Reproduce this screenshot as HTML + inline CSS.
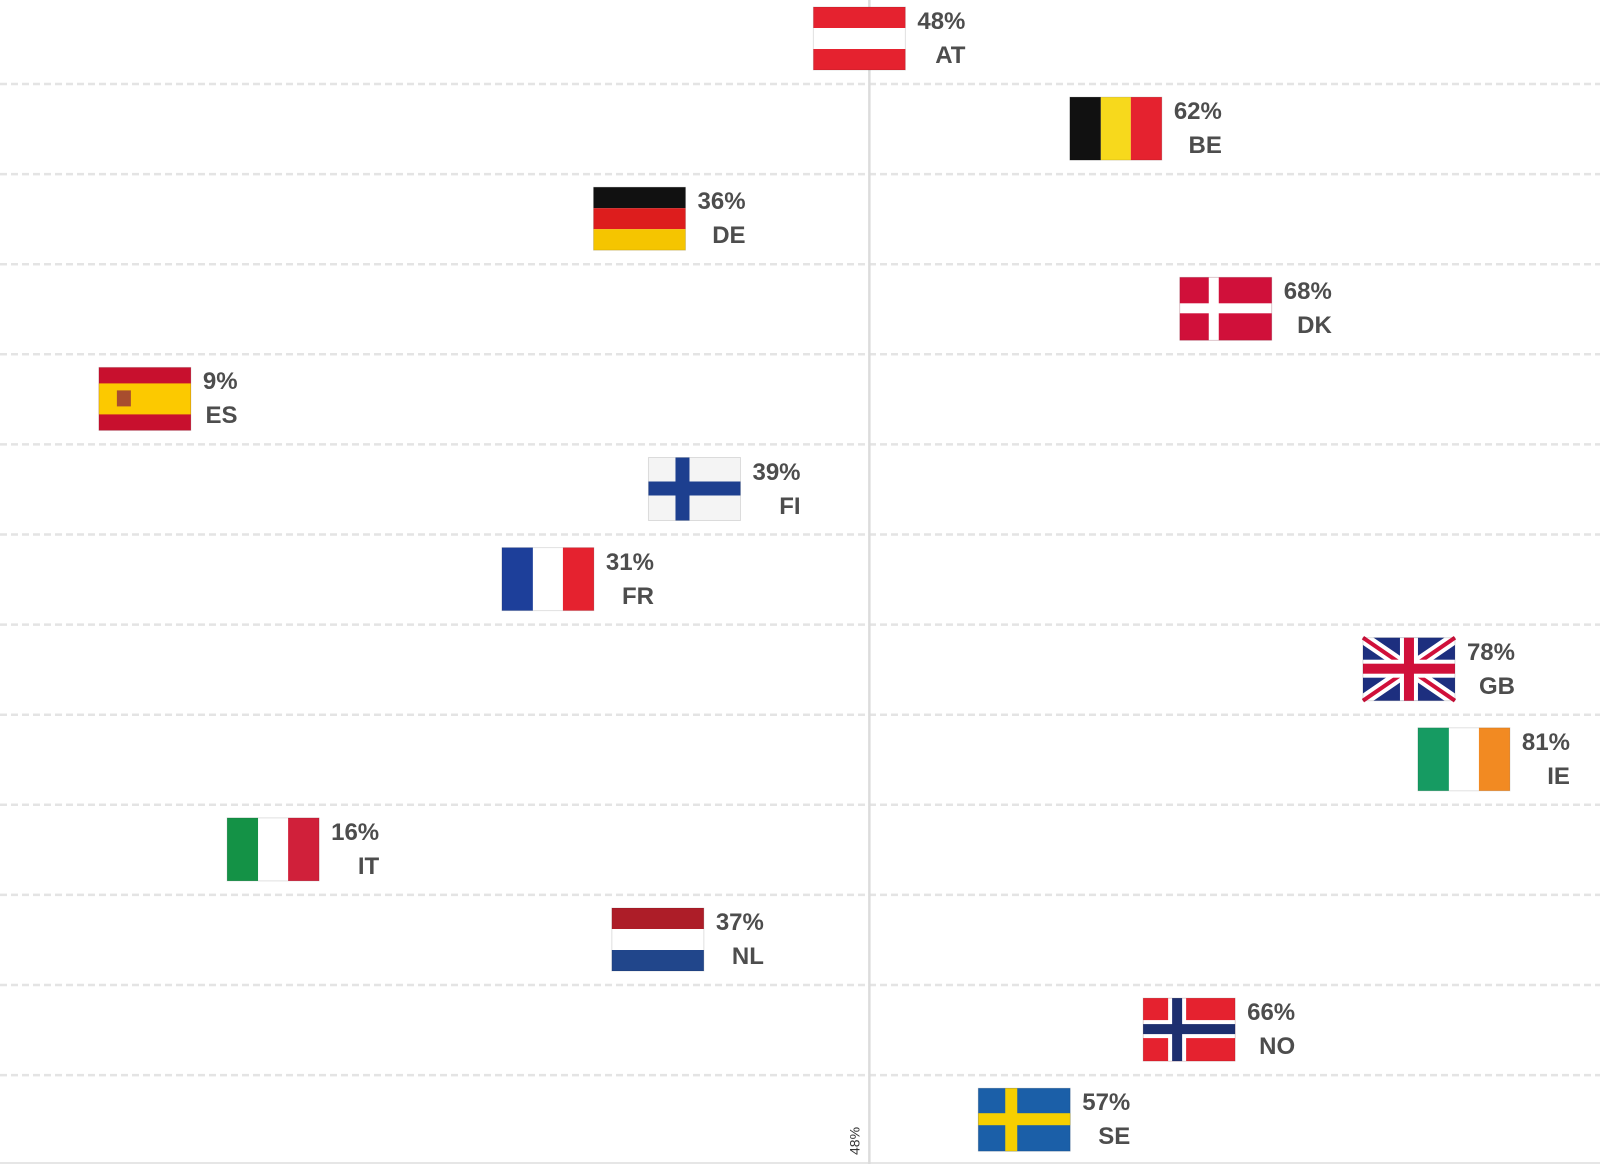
<!DOCTYPE html>
<html><head><meta charset="utf-8"><style>
body{margin:0;background:#fff;font-family:"Liberation Sans",sans-serif;}
#wrap{position:relative;width:1600px;height:1164px;overflow:hidden;}
.lbl{position:absolute;font-weight:bold;font-size:24px;color:#4d4d4d;text-align:right;line-height:34px;display:inline-block;}
</style></head><body>
<div id="wrap">
<svg id="svg" width="1600" height="1164" style="position:absolute;left:0;top:0"></svg>
</div>
<script>
const countries=["AT","BE","DE","DK","ES","FI","FR","GB","IE","IT","NL","NO","SE"];
const values=[48,62,36,68,9,39,31,78,81,16,37,66,57];
const refValue=48;
const NS="http://www.w3.org/2000/svg";
const svg=document.getElementById('svg');
const wrap=document.getElementById('wrap');
function x(v){return -66+18.32*v;}
function rowY(i){return 39+90.1*i;}
function el(t,a,p){const e=document.createElementNS(NS,t);for(const k in a)e.setAttribute(k,a[k]);(p||svg).appendChild(e);return e;}
for(let i=0;i<countries.length-1;i++){
 const l=el('line',{x1:0,x2:1600,y1:rowY(i)+45,y2:rowY(i)+45,stroke:'#e4e4e4','stroke-width':2.5,'stroke-dasharray':'7,4'});
 
 
}
const bl=el('line',{x1:0,x2:1600,y1:1163,y2:1163,stroke:'#e6e6e6','stroke-width':2});


const rx=x(refValue)+56;
const rl=el('line',{x1:rx,x2:rx,y1:0,y2:1164,stroke:'#dcdcdc','stroke-width':2.5});


const rt=el('text',{x:0,y:0,transform:`translate(${rx-10},1155) rotate(-90)`,'font-size':14,fill:'#333','font-family':'Liberation Sans'});
rt.textContent=refValue+'%';


function flag(c,g){
 const W=92,H=63;
 const R=(x0,y0,w,h,f)=>el('rect',{x:x0,y:y0,width:w,height:h,fill:f},g);
 const h3=(a,b,d)=>{R(0,0,W,21,a);R(0,21,W,21,b);R(0,42,W,21,d);};
 const v3=(a,b,d)=>{R(0,0,31,H,a);R(31,0,30,H,b);R(61,0,31,H,d);};
 switch(c){
  case 'AT':h3('#e5222f','#fff','#e5222f');break;
  case 'BE':v3('#111','#f7d91c','#e5222f');break;
  case 'DE':h3('#111','#dd1d1d','#f5c500');break;
  case 'DK':R(0,0,W,H,'#d0103a');R(29,0,10,H,'#fff');R(0,26,W,10,'#fff');break;
  case 'ES':R(0,0,W,H,'#c8102e');R(0,16,W,31,'#fcc900');R(18,23,14,16,'#a84d2e');break;
  case 'FI':R(0,0,W,H,'#f4f4f4');R(27,0,14,H,'#1d3f8f');R(0,24,W,14,'#1d3f8f');break;
  case 'FR':v3('#1d3f9a','#fff','#e5222f');break;
  case 'GB':R(0,0,W,H,'#1d2f7f');
   el('line',{x1:0,y1:0,x2:W,y2:H,stroke:'#fff','stroke-width':12},g);
   el('line',{x1:W,y1:0,x2:0,y2:H,stroke:'#fff','stroke-width':12},g);
   el('line',{x1:0,y1:0,x2:W,y2:H,stroke:'#d0103a','stroke-width':4},g);
   el('line',{x1:W,y1:0,x2:0,y2:H,stroke:'#d0103a','stroke-width':4},g);
   R(37,0,18,H,'#fff');R(0,22,W,18,'#fff');R(41,0,10,H,'#d0103a');R(0,26,W,10,'#d0103a');break;
  case 'IE':v3('#169b62','#fff','#f28a22');break;
  case 'IT':v3('#149246','#fff','#d0203a');break;
  case 'NL':h3('#ad1d28','#fff','#21468b');break;
  case 'NO':R(0,0,W,H,'#e5222f');R(25,0,18,H,'#fff');R(0,22,W,18,'#fff');R(29,0,10,H,'#1d2f6f');R(0,26,W,10,'#1d2f6f');break;
  case 'SE':R(0,0,W,H,'#1b5fa8');R(27,0,12,H,'#f7cf00');R(0,25,W,12,'#f7cf00');break;
 }
 el('rect',{x:0,y:0,width:W,height:H,fill:'none',stroke:'rgba(0,0,0,0.12)','stroke-width':1},g);
}
countries.forEach((c,i)=>{
 const left=x(values[i]),cy=rowY(i);
 const g=el('g',{transform:`translate(${left},${cy-32})`});
 
 
 flag(c,g);
 const d=document.createElement('div');
 d.className='lbl';
 d.style.left=(left+104)+'px';
 d.style.top=(cy-34)+'px';
 d.innerHTML=values[i]+'%<br>'+c;
 
 
 wrap.appendChild(d);
});
</script>
</body></html>
